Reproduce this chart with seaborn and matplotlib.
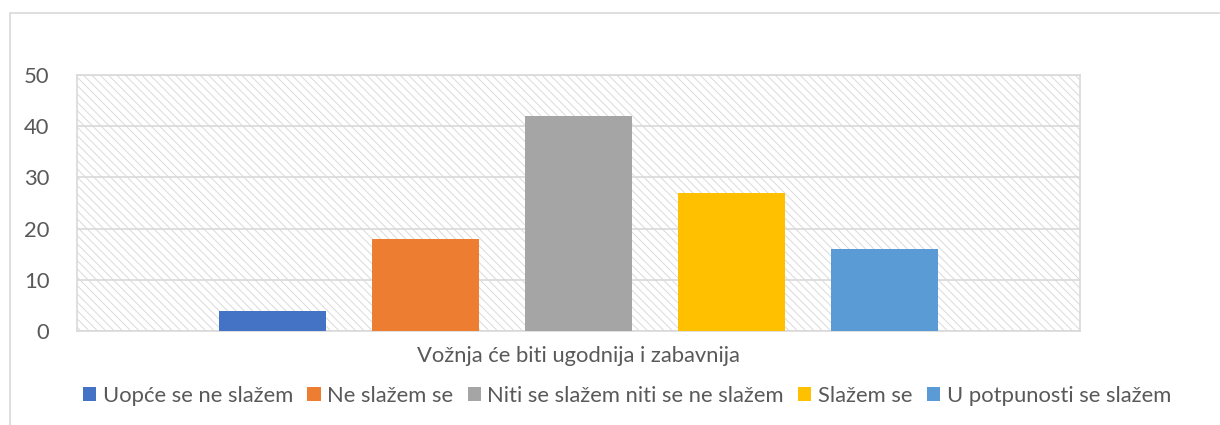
import matplotlib
matplotlib.use("Agg")
import matplotlib.pyplot as plt
import seaborn as sns
import pandas as pd
from matplotlib.patches import Rectangle, Patch

group_label = "Vožnja će biti ugodnija i zabavnija"
categories = ["Uopće se ne slažem", "Ne slažem se", "Niti se slažem niti se ne slažem",
              "Slažem se", "U potpunosti se slažem"]
values = [4, 18, 42, 27, 16]
colors = ["#4472C4", "#ED7D31", "#A5A5A5", "#FFC000", "#5B9BD5"]
yticks = [0, 10, 20, 30, 40, 50]

sns.set_theme(style="white")
plt.rcParams['font.family'] = ['Lato', 'DejaVu Sans']
plt.rcParams['hatch.linewidth'] = 0.7

df = pd.DataFrame({"cat": categories, "val": values})

fig = plt.figure(figsize=(12.2, 4.25), dpi=100)
ax = fig.add_axes([77/1220, 1-331/425, (1080-77)/1220, (331-75)/425])

# hatched plot-area background
bg = Rectangle((0, 0), 1, 1, transform=ax.transAxes, facecolor="white",
               edgecolor="#DADADA", linewidth=0, hatch="\\\\\\\\", zorder=0)
ax.add_patch(bg)

sns.barplot(data=df, x="cat", y="val", hue="cat", palette=colors, width=0.7,
            legend=False, ax=ax, saturation=1, zorder=3, edgecolor="none")

ax.set_xlim(-1.28, 5.28)
ax.set_ylim(0, 50)
ax.set_yticks(yticks)
ax.yaxis.grid(True, color="#D9D9D9", linewidth=1.2, zorder=1)
ax.set_axisbelow(True)
ax.set_xticks([])
ax.set_ylabel("")
ax.set_xlabel(group_label, fontsize=15.8, color="#595959", labelpad=11)
ax.tick_params(axis="y", labelsize=15.8, labelcolor="#595959", length=0, pad=20)
for s in ax.spines.values():
    s.set_color("#D9D9D9")
    s.set_linewidth(1.2)
    s.set_visible(True)

handles = [Patch(facecolor=c, edgecolor="none") for c in colors]
fig.legend(handles, categories, loc="center", bbox_to_anchor=(627/1220, 1-396/425),
           ncol=5, frameon=False, fontsize=15.8, labelcolor="#595959",
           handlelength=0.6, handleheight=0.6, handletextpad=0.3, columnspacing=0.65,
           borderpad=0)

# outer chart frame (partially visible)
frame = Rectangle((10/1220, -0.2), 1.5, 1 - 13/425 + 0.2, transform=fig.transFigure,
                  fill=False, edgecolor="#D9D9D9", linewidth=1.2)
fig.add_artist(frame)

fig.savefig("out.png", dpi=100, facecolor="white")
